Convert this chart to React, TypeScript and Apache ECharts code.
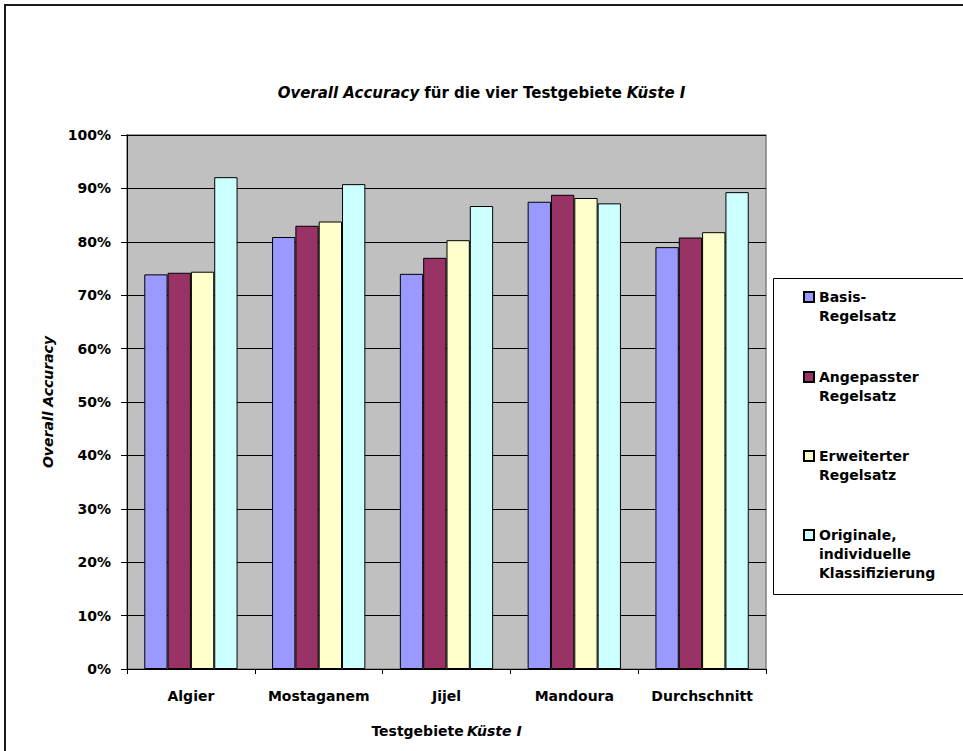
import React, { useEffect, useRef } from "react";
import * as echarts from "echarts";

const categories = ["Algier", "Mostaganem", "Jijel", "Mandoura", "Durchschnitt"];
const basisRegelsatz = [73.9, 80.9, 74.0, 87.5, 79.0];
const angepassterRegelsatz = [74.2, 83.0, 77.0, 88.8, 80.8];
const erweiterterRegelsatz = [74.4, 83.8, 80.3, 88.2, 81.8];
const originaleKlassifizierung = [92.1, 90.8, 86.7, 87.2, 89.3];
const seriesNames = [
  "Basis-\nRegelsatz",
  "Angepasster\nRegelsatz",
  "Erweiterter\nRegelsatz",
  "Originale,\nindividuelle\nKlassifizierung",
];
const seriesValues = [basisRegelsatz, angepassterRegelsatz, erweiterterRegelsatz, originaleKlassifizierung];
const seriesColors = ["#9999FF", "#993366", "#FFFFCC", "#CCFFFF"];

const FONT = "DejaVu Sans";

export default function App() {
  const ref = useRef<HTMLDivElement>(null);
  useEffect(() => {
    if (!ref.current) return;
    const chart = echarts.init(ref.current, undefined, { renderer: "svg" });
    const lineH = 19;
    const firstLineCenters = [297, 377, 456, 535];
    const option: any = {
      animation: false,
      backgroundColor: "#ffffff",
      title: {
        text: "{i|Overall Accuracy} {b|für die vier Testgebiete} {i|Küste I}",
        left: "center",
        top: 79,
        textStyle: {
          rich: {
            i: { fontFamily: FONT, fontSize: 15, fontWeight: "bold", fontStyle: "italic", color: "#000" },
            b: { fontFamily: FONT, fontSize: 15, fontWeight: "bold", color: "#000" },
          },
        },
      },
      graphic: [
        {
          type: "rect",
          shape: { x: 5, y: 5, width: 1000, height: 800 },
          style: { fill: "none", stroke: "#1a1a1a", lineWidth: 2 },
          z: 0,
          silent: true,
        },
        {
          type: "rect",
          shape: { x: 773.5, y: 278.5, width: 220, height: 316 },
          style: { fill: "#ffffff", stroke: "#000000", lineWidth: 1 },
          z: 1,
          silent: true,
        },
      ],
      legend: seriesNames.map((n, i) => {
        const lines = n.split("\n").length;
        const blanks = "\n".repeat(lines - 1);
        return {
          data: [n],
          left: 803,
          top: firstLineCenters[i] - (lines - 0.5) * lineH,
          orient: "vertical",
          padding: 0,
          itemWidth: 10,
          itemHeight: 10,
          itemGap: 0,
          icon: "rect",
          z: 5,
          formatter: (name: string) => blanks + name,
          textStyle: {
            fontFamily: FONT,
            fontWeight: "bold",
            fontSize: 14,
            lineHeight: lineH,
            color: "#000",
          },
        };
      }),
      grid: {
        left: 127,
        top: 135,
        width: 639,
        height: 534,
        show: true,
        backgroundColor: "#C0C0C0",
        borderColor: "#808080",
        borderWidth: 1.5,
      },
      xAxis: {
        type: "category",
        data: categories,
        boundaryGap: true,
        name: "{b|Testgebiete} {i|Küste I}",
        nameLocation: "middle",
        nameGap: 55,
        nameTextStyle: {
          rich: {
            i: { fontFamily: FONT, fontSize: 14, fontWeight: "bold", fontStyle: "italic", color: "#000" },
            b: { fontFamily: FONT, fontSize: 14, fontWeight: "bold", color: "#000" },
          },
        },
        axisLine: { lineStyle: { color: "#000", width: 1 } },
        axisTick: { show: true, length: 5, interval: 0, lineStyle: { color: "#000" } },
        axisLabel: { interval: 0, fontFamily: FONT, fontSize: 14, fontWeight: "bold", color: "#000", margin: 20 },
      },
      yAxis: {
        type: "value",
        min: 0,
        max: 100,
        interval: 10,
        name: "Overall Accuracy",
        nameLocation: "middle",
        nameGap: 72,
        nameTextStyle: { fontFamily: FONT, fontSize: 14, fontWeight: "bold", fontStyle: "italic", color: "#000" },
        axisLine: { show: true, lineStyle: { color: "#000", width: 1 } },
        axisTick: { show: true, length: 6, lineStyle: { color: "#000" } },
        axisLabel: { fontFamily: FONT, fontSize: 14, fontWeight: "bold", color: "#000", margin: 16, formatter: "{value}%" },
        splitLine: { show: true, lineStyle: { color: "#000", width: 1 } },
      },
      series: seriesNames.map((n, i) => ({
        type: "bar",
        name: n,
        data: seriesValues[i],
        barGap: "0%",
        barCategoryGap: "27%",
        itemStyle: { color: seriesColors[i], borderColor: "#000", borderWidth: 1 },
      })),
    };
    chart.setOption(option);
    return () => chart.dispose();
  }, []);
  return (
    <div
      ref={ref}
      style={{ position: "fixed", left: 0, top: 0, width: 963, height: 751 }}
    />
  );
}
